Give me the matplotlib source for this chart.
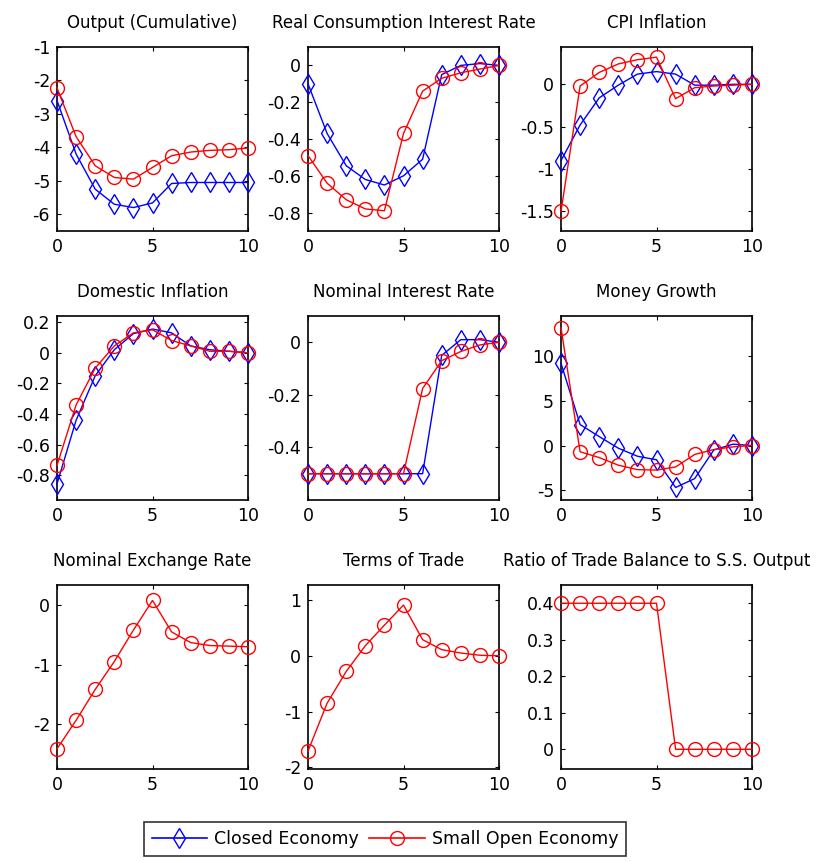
import matplotlib
matplotlib.use("Agg")
import matplotlib.pyplot as plt
from matplotlib.lines import Line2D

plt.rcParams["font.family"] = ["DejaVu Sans"]
plt.rcParams["axes.unicode_minus"] = False

periods = list(range(11))

titles = ["Output (Cumulative)", "Real Consumption Interest Rate", "CPI Inflation",
          "Domestic Inflation", "Nominal Interest Rate", "Money Growth",
          "Nominal Exchange Rate", "Terms of Trade", "Ratio of Trade Balance to S.S. Output"]

# closed economy (blue diamonds); None = not shown in that panel
closed_output = [-2.6, -4.2, -5.25, -5.7, -5.8, -5.66, -5.08, -5.05, -5.05, -5.05, -5.05]
closed_real_rate = [-0.1, -0.37, -0.545, -0.62, -0.65, -0.6, -0.51, -0.05, 0.0, 0.01, 0.0]
closed_cpi = [-0.9, -0.48, -0.16, -0.01, 0.12, 0.15, 0.12, -0.01, -0.01, 0.0, 0.0]
closed_dom = [-0.855, -0.44, -0.15, 0.02, 0.125, 0.155, 0.13, 0.045, 0.02, 0.01, 0.0]
closed_nom_rate = [-0.5, -0.5, -0.5, -0.5, -0.5, -0.5, -0.5, -0.05, 0.01, 0.01, 0.0]
closed_money = [9.2, 2.35, 1.0, -0.3, -1.2, -1.6, -4.7, -3.7, -0.5, 0.15, 0.0]

# small open economy (red circles)
open_output = [-2.22, -3.68, -4.55, -4.9, -4.95, -4.6, -4.25, -4.14, -4.09, -4.07, -4.02]
open_real_rate = [-0.49, -0.64, -0.73, -0.78, -0.79, -0.37, -0.14, -0.07, -0.04, -0.02, 0.0]
open_cpi = [-1.5, -0.02, 0.14, 0.24, 0.29, 0.32, -0.17, -0.04, -0.02, -0.01, 0.0]
open_dom = [-0.735, -0.34, -0.1, 0.045, 0.13, 0.15, 0.08, 0.045, 0.01, 0.01, 0.0]
open_nom_rate = [-0.5, -0.5, -0.5, -0.5, -0.5, -0.5, -0.176, -0.07, -0.035, -0.01, 0.0]
open_money = [13.2, -0.7, -1.35, -2.2, -2.7, -2.75, -2.4, -1.0, -0.45, -0.15, 0.0]
open_exch = [-2.42, -1.94, -1.42, -0.95, -0.42, 0.08, -0.45, -0.63, -0.68, -0.69, -0.7]
open_tot = [-1.71, -0.85, -0.28, 0.18, 0.55, 0.91, 0.29, 0.11, 0.05, 0.01, 0.0]
open_tb = [0.4, 0.4, 0.4, 0.4, 0.4, 0.4, 0.0, 0.0, 0.0, 0.0, 0.0]

closed = [closed_output, closed_real_rate, closed_cpi, closed_dom, closed_nom_rate,
          closed_money, None, None, None]
small_open = [open_output, open_real_rate, open_cpi, open_dom, open_nom_rate,
              open_money, open_exch, open_tot, open_tb]

ylims = [(-6.5, -1), (-0.9, 0.1), (-1.73, 0.44), (-0.96, 0.24), (-0.6, 0.1),
         (-6.1, 14.5), (-2.76, 0.34), (-2.03, 1.27), (-0.054, 0.45)]
yticks = [[-6, -5, -4, -3, -2, -1], [-0.8, -0.6, -0.4, -0.2, 0], [-1.5, -1, -0.5, 0],
          [-0.8, -0.6, -0.4, -0.2, 0, 0.2], [-0.4, -0.2, 0], [-5, 0, 5, 10],
          [-2, -1, 0], [-2, -1, 0, 1], [0, 0.1, 0.2, 0.3, 0.4]]

W, H = 818, 861
fig = plt.figure(figsize=(W / 100, H / 100), dpi=100)
fig.patch.set_facecolor("white")

col_x = [57, 308, 561]
row_y = [47, 316, 585]
aw, ah = 191, 184

for i in range(9):
    r, c = divmod(i, 3)
    ax = fig.add_axes([col_x[c] / W, 1 - (row_y[r] + ah) / H, aw / W, ah / H])
    if closed[i] is not None:
        ax.plot(periods, closed[i], color="#0000ff", lw=1.0, marker="d", ms=10,
                mfc="none", mec="#0000ff", mew=1.0, clip_on=False, zorder=3)
    ax.plot(periods, small_open[i], color="#ff0000", lw=1.0, marker="o", ms=10,
            mfc="none", mec="#ff0000", mew=1.0, clip_on=False, zorder=4)
    ax.set_xlim(0, 10)
    ax.set_ylim(*ylims[i])
    ax.set_xticks([0, 5, 10])
    ax.set_yticks(yticks[i])
    ax.set_yticklabels([f"{v:g}" for v in yticks[i]])
    ax.tick_params(direction="in", top=True, right=True, labelsize=12.5, length=3,
                   width=0.8, pad=5)
    for sp in ax.spines.values():
        sp.set_linewidth(1.2)
    ax.set_title(titles[i], fontsize=12, pad=14)

handles = [Line2D([], [], color="#0000ff", lw=1.2, marker="d", ms=10, mfc="none"),
           Line2D([], [], color="#ff0000", lw=1.2, marker="o", ms=10, mfc="none")]
leg = fig.legend(handles, ["Closed Economy", "Small Open Economy"], loc="center",
                 bbox_to_anchor=(385 / W, 1 - 839 / H), ncol=2, fontsize=12.5,
                 frameon=True, fancybox=False, edgecolor="black", handlelength=3.2,
                 columnspacing=0.6, handletextpad=0.4, borderpad=0.45)
leg.get_frame().set_linewidth(1.2)

fig.savefig("out.png", dpi=100, facecolor="white")
